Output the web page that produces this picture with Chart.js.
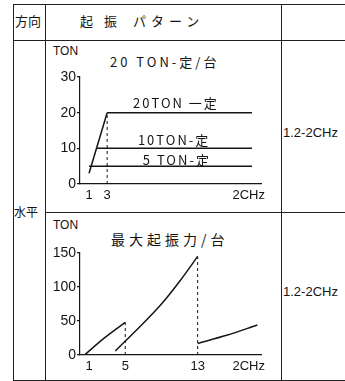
<!DOCTYPE html>
<html>
<head>
<meta charset="utf-8">
<script src="https://cdn.jsdelivr.net/npm/chart.js@4.4.1/dist/chart.umd.min.js"></script>
<style>
  html, body { margin: 0; padding: 0; background: #fff; }
  #page { position: relative; width: 345px; height: 381px; overflow: hidden;
          font-family: "Liberation Sans", "DejaVu Sans", sans-serif; color: #151515; }
  .h { position: absolute; height: 1px; background: #222; }
  .v { position: absolute; width: 1px; background: #222; }
  .t { position: absolute; white-space: nowrap; line-height: 1; }
  .jp { font-family: "Noto Sans CJK JP", "Noto Sans", sans-serif; }
  canvas { position: absolute; }
</style>
</head>
<body>
<div id="page">
  <!-- table rules -->
  <div class="h" style="left:13px;top:4px;width:332px"></div>
  <div class="h" style="left:13px;top:40px;width:332px"></div>
  <div class="h" style="left:45px;top:212px;width:300px"></div>
  <div class="h" style="left:13px;top:380px;width:332px"></div>
  <div class="v" style="left:13px;top:4px;height:377px"></div>
  <div class="v" style="left:45px;top:4px;height:377px"></div>
  <div class="v" style="left:281px;top:4px;height:377px"></div>

  <!-- header row -->
  <div class="t jp" style="left:15px;top:14px;font-size:13px">方向</div>
  <div class="t jp" style="left:80px;top:14px;font-size:13px;letter-spacing:4px">起 振</div>
  <div class="t jp" style="left:133px;top:14px;font-size:13px;letter-spacing:5px">パターン</div>

  <div class="t jp" style="left:14px;top:206px;font-size:12px">水平</div>

  <!-- upper pattern -->
  <div class="t" style="left:53px;top:45px;font-size:12px">TON</div>
  <div class="t jp" style="left:110px;top:55px;font-size:13px;letter-spacing:3px">20 TON-定/台</div>
  <canvas id="chartA" width="234" height="170" style="left:46px;top:41px"></canvas>
  <div class="t" style="left:283px;top:126px;font-size:13px">1.2-2CHz</div>

  <!-- lower pattern -->
  <div class="t" style="left:53px;top:219px;font-size:12px">TON</div>
  <div class="t jp" style="left:111px;top:232px;font-size:14px;letter-spacing:4px">最大起振力/台</div>
  <canvas id="chartB" width="234" height="166" style="left:46px;top:213px"></canvas>
  <div class="t" style="left:283px;top:285px;font-size:13px">1.2-2CHz</div>
</div>

<script>
// ---- 20 TON 一定/台 ----
const hzTicksA = [1, 3, 20];
const hzLabelsA = ['1', '3', '2CHz'];
const tonTicksA = [0, 10, 20, 30];
const rampHz = [1, 3];
const rampTon = [3, 20];
const ton20Hz = [3, 19];
const ton20 = [20, 20];
const ton10Hz = [1.8, 19];
const ton10 = [10, 10];
const ton5Hz = [1, 19];
const ton5 = [5, 5];

// ---- 最大起振力/台 ----
const hzTicksB = [1, 5, 13, 20];
const hzLabelsB = ['1', '5', '13', '2CHz'];
const tonTicksB = [0, 50, 100, 150];
const band1Hz = [0.5, 2.6, 5];
const band1Ton = [0, 24, 48];
const band2Hz = [3.9, 6.5, 9, 11.1, 13];
const band2Ton = [6, 40, 75, 110, 145];
const band3Hz = [13, 16.2, 19.6];
const band3Ton = [17, 29, 44];

const INK = '#151515';
const FONT = '"Liberation Sans", "DejaVu Sans", sans-serif';
const JP = '"Noto Sans CJK JP", sans-serif';

const pts = (xs, ys) => xs.map((x, i) => ({ x, y: ys[i] }));
const last = a => a[a.length - 1];
// vertical dashed drop line from the top of a curve to the axis
const drop = (xs, ys) => [{ x: last(xs), y: 0 }, { x: last(xs), y: last(ys) }];

const solid = (data, smooth) => ({
  data, borderColor: INK, borderWidth: 1.5, pointRadius: 0,
  tension: smooth ? 0.35 : 0
});
const dashed = data => ({ data, borderColor: INK, borderWidth: 1, borderDash: [3, 3], pointRadius: 0 });

// frequency labels under the x axis
const freqLabels = {
  id: 'freqLabels',
  afterDraw(chart, args, opts) {
    const { ctx, chartArea, scales: { x } } = chart;
    ctx.save();
    ctx.fillStyle = INK;
    ctx.font = '13px ' + FONT;
    ctx.textBaseline = 'middle';
    opts.values.forEach((v, i) => {
      const end = i === opts.values.length - 1;
      ctx.textAlign = end ? 'right' : 'center';
      ctx.fillText(opts.labels[i], x.getPixelForValue(v) + (end ? 4 : 0), chartArea.bottom + 11);
    });
    ctx.restore();
  }
};

// captions sitting on the constant-force lines
const lineNotes = {
  id: 'lineNotes',
  afterDatasetsDraw(chart, args, opts) {
    if (!opts.items) return;
    const { ctx, scales: { x, y } } = chart;
    ctx.save();
    ctx.fillStyle = INK;
    ctx.font = '13px ' + JP;
    ctx.letterSpacing = '2px';
    ctx.textAlign = 'center';
    ctx.textBaseline = 'bottom';
    opts.items.forEach(it => {
      ctx.fillText(it.text, x.getPixelForValue(it.at), y.getPixelForValue(it.value) - it.lift);
    });
    ctx.restore();
  }
};

function makeChart(id, datasets, yMax, tonTicks, hzTicks, hzLabels, padTop, axisH, notes) {
  return new Chart(document.getElementById(id), {
    type: 'line',
    data: { datasets },
    plugins: [freqLabels, lineNotes],
    options: {
      responsive: false,
      animation: false,
      events: [],
      layout: { padding: { top: padTop, right: 19, left: 0, bottom: 0 } },
      plugins: {
        legend: { display: false },
        tooltip: { enabled: false },
        freqLabels: { values: hzTicks, labels: hzLabels },
        lineNotes: { items: notes }
      },
      scales: {
        x: {
          type: 'linear', min: 0, max: 20,
          grid: { display: false },
          border: { color: INK, width: 1.2 },
          ticks: { display: false },
          afterFit(s) { s.height = axisH; }
        },
        y: {
          min: 0, max: yMax,
          afterBuildTicks(s) { s.ticks = tonTicks.map(v => ({ value: v })); },
          grid: { drawOnChartArea: false, drawTicks: true, tickLength: 3, color: INK, lineWidth: 1.2 },
          border: { color: INK, width: 1.2 },
          ticks: { color: INK, padding: 1, font: { size: 14, family: FONT }, callback: v => String(v) },
          afterFit(s) { s.width = 34; }
        }
      }
    }
  });
}

makeChart('chartA', [
  solid(pts(rampHz, rampTon)),
  solid(pts(ton20Hz, ton20)),
  solid(pts(ton10Hz, ton10)),
  solid(pts(ton5Hz, ton5)),
  dashed(drop(rampHz, rampTon))
], 30, tonTicksA, hzTicksA, hzLabelsA, 36, 27, [
  { text: '20TON 一定', value: ton20[0], at: 10.6, lift: 3 },
  { text: '10TON-定', value: ton10[0], at: 10.4, lift: 2 },
  { text: '5 TON-定', value: ton5[0], at: 10.7, lift: 0 }
]);

makeChart('chartB', [
  solid(pts(band1Hz, band1Ton), true),
  solid(pts(band2Hz, band2Ton), true),
  solid(pts(band3Hz, band3Ton), true),
  dashed(drop(band1Hz, band1Ton)),
  dashed(drop(band2Hz, band2Ton))
], 150, tonTicksB, hzTicksB, hzLabelsB, 40, 24, null);
</script>
</body>
</html>
